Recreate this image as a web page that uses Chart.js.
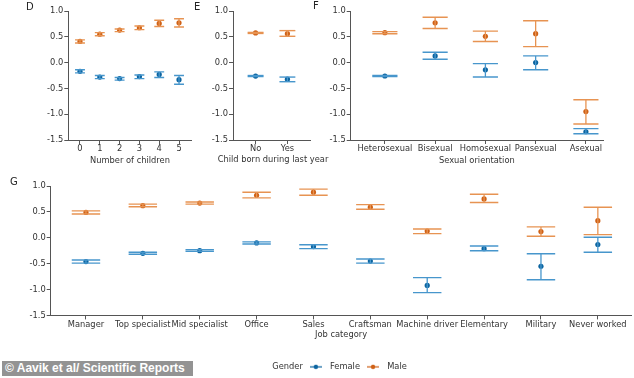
<!DOCTYPE html>
<html>
<head>
<meta charset="utf-8">
<script src="https://cdn.jsdelivr.net/npm/chart.js@4/dist/chart.umd.min.js"></script>
<style>
html,body{margin:0;padding:0;background:#fff;width:634px;height:378px;overflow:hidden;position:relative;font-family:"DejaVu Sans",sans-serif;}
canvas{position:absolute;}
.lab{position:absolute;font:10px "DejaVu Sans",sans-serif;color:#222;}
#wm{position:absolute;left:2px;top:361px;width:191px;height:15px;background:#939393;color:#fff;font:bold 12px "Liberation Sans",Arial,sans-serif;line-height:15px;padding-left:3px;box-sizing:border-box;white-space:nowrap;}
</style>
</head>
<body>
<canvas id="cD" width="170" height="170" style="left:30px;top:0px"></canvas>
<canvas id="cE" width="150" height="170" style="left:198px;top:0px"></canvas>
<canvas id="cF" width="319" height="170" style="left:315px;top:0px"></canvas>
<canvas id="cG" width="634" height="211" style="left:0px;top:170px"></canvas>
<div class="lab" style="left:26px;top:1px">D</div>
<div class="lab" style="left:194px;top:1px">E</div>
<div class="lab" style="left:313px;top:0px">F</div>
<div class="lab" style="left:10px;top:176px">G</div>
<div id="wm">© Aavik et al/ Scientific Reports</div>
<script>
// ---- Data ----
const yTicks = [-1.5, -1.0, -0.5, 0.0, 0.5, 1.0];

const dCategories = ['0', '1', '2', '3', '4', '5'];
const dFemale   = [-0.17, -0.28, -0.31, -0.27, -0.23, -0.33];
const dFemaleLo = [-0.20, -0.31, -0.34, -0.31, -0.29, -0.42];
const dFemaleHi = [-0.14, -0.25, -0.29, -0.24, -0.18, -0.25];
const dMale     = [0.41, 0.55, 0.63, 0.675, 0.76, 0.77];
const dMaleLo   = [0.38, 0.52, 0.60, 0.64, 0.70, 0.69];
const dMaleHi   = [0.44, 0.58, 0.65, 0.71, 0.82, 0.85];

const eCategories = ['No', 'Yes'];
const eFemale   = [-0.26, -0.32];
const eFemaleLo = [-0.27, -0.37];
const eFemaleHi = [-0.25, -0.28];
const eMale     = [0.575, 0.56];
const eMaleLo   = [0.565, 0.51];
const eMaleHi   = [0.585, 0.62];

const fCategories = ['Heterosexual', 'Bisexual', 'Homosexual', 'Pansexual', 'Asexual'];
const fFemale   = [-0.26, 0.13, -0.14, 0.0, -1.34];
const fFemaleLo = [-0.27, 0.065, -0.28, -0.14, -1.38];
const fFemaleHi = [-0.25, 0.20, -0.02, 0.13, -1.28];
const fMale     = [0.58, 0.77, 0.51, 0.56, -0.95];
const fMaleLo   = [0.56, 0.66, 0.41, 0.31, -1.19];
const fMaleHi   = [0.60, 0.88, 0.61, 0.81, -0.72];

const gCategories = ['Manager', 'Top specialist', 'Mid specialist', 'Office', 'Sales',
                     'Craftsman', 'Machine driver', 'Elementary', 'Military', 'Never worked'];
const gFemale   = [-0.46, -0.30, -0.25, -0.10, -0.17, -0.45, -0.92, -0.21, -0.55, -0.13];
const gFemaleLo = [-0.49, -0.32, -0.26, -0.12, -0.21, -0.49, -1.06, -0.25, -0.81, -0.28];
const gFemaleHi = [-0.43, -0.28, -0.23, -0.08, -0.135, -0.41, -0.77, -0.16, -0.31, 0.01];
const gMale     = [0.49, 0.62, 0.67, 0.82, 0.88, 0.59, 0.13, 0.75, 0.12, 0.33];
const gMaleLo   = [0.46, 0.60, 0.65, 0.77, 0.82, 0.55, 0.08, 0.68, 0.03, 0.06];
const gMaleHi   = [0.52, 0.65, 0.69, 0.88, 0.94, 0.64, 0.17, 0.84, 0.21, 0.59];

const seriesNames = ['Female', 'Male'];
const legendTitle = 'Gender';

// ---- Styles ----
const FEM_PT = '#0b64a0', FEM_LN = '#4796cc';
const MAL_PT = '#cf6116', MAL_LN = '#e79352';
const AX = '#555';
const TXT = '#333';
const FONT = {family: 'DejaVu Sans', size: 8.3};

function seriesDatasets(mean, lo, hi, ptColor, lnColor) {
  const whisk = [];
  const caps = [];
  mean.forEach((v, i) => {
    whisk.push({x: i, y: lo[i]}, {x: i, y: hi[i]}, {x: i, y: null});
    caps.push({x: i, y: lo[i]}, {x: i, y: hi[i]});
  });
  const capRadius = (ctx) => {
    const s = ctx.chart.scales.x;
    return 0.25 * Math.abs(s.getPixelForValue(1) - s.getPixelForValue(0));
  };
  return [
    {data: whisk, showLine: true, spanGaps: false, borderColor: lnColor, borderWidth: 1.3,
     pointRadius: 0, pointHoverRadius: 0},
    {data: caps, showLine: false, pointStyle: 'line', pointRadius: capRadius, pointHoverRadius: capRadius,
     pointBorderColor: lnColor, pointBorderWidth: 1.4, borderColor: lnColor},
    {data: mean.map((v, i) => ({x: i, y: v})), showLine: false, pointStyle: 'circle',
     pointRadius: 2.6, pointHoverRadius: 2.6, pointBackgroundColor: ptColor, pointBorderColor: ptColor,
     pointBorderWidth: 0, borderColor: ptColor}
  ];
}

function makeChart(id, cfg) {
  const {cats, fem, femLo, femHi, mal, malLo, malHi, xmin, xmax, yW, xH, pad, title, titlePadBottom,
         legend, chartTitle, rightW} = cfg;
  const datasets = [
    ...seriesDatasets(fem, femLo, femHi, FEM_PT, FEM_LN),
    ...seriesDatasets(mal, malLo, malHi, MAL_PT, MAL_LN)
  ];
  const scales = {
    x: {
      type: 'linear', min: xmin, max: xmax,
      afterBuildTicks: (s) => { s.ticks = cats.map((_, i) => ({value: i})); },
      afterFit: (s) => { s.height = xH; },
      ticks: {callback: (v) => cats[v], autoSkip: false, maxRotation: 0, minRotation: 0,
              color: TXT, font: FONT, padding: 0},
      grid: {display: true, drawOnChartArea: false, drawTicks: true, tickLength: 4, color: AX, tickWidth: 1},
      border: {display: true, color: AX, width: 1},
      title: {display: !!title, text: title || '', color: TXT, font: FONT, padding: {top: 0, bottom: titlePadBottom || 0}}
    },
    y: {
      type: 'linear', min: -1.5, max: 1.0,
      afterBuildTicks: (s) => { s.ticks = yTicks.map(v => ({value: v})); },
      afterFit: (s) => { s.width = yW; },
      ticks: {callback: (v) => v.toFixed(1), color: TXT, font: FONT, padding: 1},
      grid: {display: true, drawOnChartArea: false, drawTicks: true, tickLength: 4, color: AX, tickWidth: 1},
      border: {display: true, color: AX, width: 1}
    }
  };
  if (rightW) {
    scales.yRight = {
      type: 'linear', position: 'right', display: true, min: 0, max: 1,
      afterFit: (s) => { s.width = rightW; },
      ticks: {display: false}, grid: {display: false, drawTicks: false}, border: {display: false}
    };
  }
  return new Chart(document.getElementById(id), {
    type: 'line',
    data: {datasets},
    options: {
      responsive: false,
      animation: false,
      devicePixelRatio: 1,
      layout: {padding: pad},
      events: [],
      plugins: {
        tooltip: {enabled: false},
        legend: legend || {display: false},
        title: chartTitle || {display: false}
      },
      scales
    }
  });
}

makeChart('cD', {cats: dCategories, fem: dFemale, femLo: dFemaleLo, femHi: dFemaleHi,
  mal: dMale, malLo: dMaleLo, malHi: dMaleHi, xmin: -0.59, xmax: 5.64,
  yW: 38.3, xH: 30, pad: {top: 11, right: 8.3, bottom: 0, left: 0},
  title: 'Number of children', titlePadBottom: 4.0});

makeChart('cE', {cats: eCategories, fem: eFemale, femLo: eFemaleLo, femHi: eFemaleHi,
  mal: eMale, malLo: eMaleLo, malHi: eMaleHi, xmin: -0.71, xmax: 1.71,
  yW: 35, xH: 14.5, rightW: 38, pad: {top: 11, right: 0, bottom: 0, left: 0},
  chartTitle: {display: true, position: 'bottom', fullSize: true, align: 'center',
               text: 'Child born during last year', color: TXT,
               font: {family: 'DejaVu Sans', size: 8.3, weight: 'normal'},
               padding: {top: 0, bottom: 5.5}}});

makeChart('cF', {cats: fCategories, fem: fFemale, femLo: fFemaleLo, femHi: fFemaleHi,
  mal: fMale, malLo: fMaleLo, malHi: fMaleHi, xmin: -0.68, xmax: 4.34,
  yW: 35.7, xH: 30, pad: {top: 11, right: 31, bottom: 0, left: 0},
  title: 'Sexual orientation', titlePadBottom: 4.0});

function markerCanvas(color) {
  const c = document.createElement('canvas');
  c.width = 12; c.height = 6;
  const x = c.getContext('2d');
  if (color) {
    x.strokeStyle = color; x.lineWidth = 1.2;
    x.beginPath(); x.moveTo(0, 3); x.lineTo(12, 3); x.stroke();
    x.fillStyle = color;
    x.beginPath(); x.arc(6, 3, 2.2, 0, Math.PI * 2); x.fill();
  }
  return c;
}
const blank = markerCanvas(null);
const legendMarkers = [markerCanvas(FEM_PT), markerCanvas(MAL_PT)];

makeChart('cG', {cats: gCategories, fem: gFemale, femLo: gFemaleLo, femHi: gFemaleHi,
  mal: gMale, malLo: gMaleLo, malHi: gMaleHi, xmin: -0.62, xmax: 9.59,
  yW: 50.7, xH: 44.3, pad: {top: 16, right: 2.3, bottom: 0, left: 0},
  title: 'Job category', titlePadBottom: 20.0,
  legend: {
    display: true, position: 'bottom', fullSize: false, align: 'center',
    labels: {
      usePointStyle: true, pointStyleWidth: 20, padding: 3, color: TXT, font: FONT,
      generateLabels: () => [
        {text: legendTitle, pointStyle: blank, fillStyle: 'rgba(0,0,0,0)', strokeStyle: 'rgba(0,0,0,0)', lineWidth: 0, hidden: false, fontColor: TXT},
        {text: seriesNames[0], pointStyle: legendMarkers[0], fillStyle: FEM_PT, strokeStyle: FEM_PT, lineWidth: 0, hidden: false, fontColor: TXT},
        {text: seriesNames[1], pointStyle: legendMarkers[1], fillStyle: MAL_PT, strokeStyle: MAL_PT, lineWidth: 0, hidden: false, fontColor: TXT},
        {text: '', pointStyle: blank, fillStyle: 'rgba(0,0,0,0)', strokeStyle: 'rgba(0,0,0,0)', lineWidth: 0, hidden: false, fontColor: TXT}
      ]
    }
  }
});
</script>
</body>
</html>
